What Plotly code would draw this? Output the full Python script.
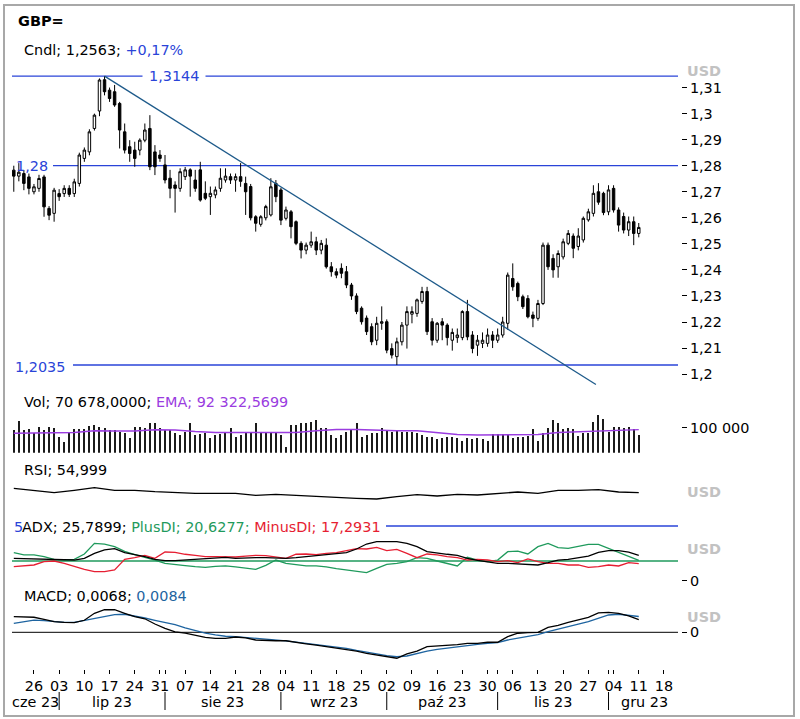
import pandas as pd
import plotly.graph_objects as go

# ---------------- data ----------------
dates = pd.bdate_range("2023-06-20", "2023-12-11")  # 125 sessions

opens = [
    1.2783, 1.2760, 1.2770, 1.2757,
    1.2700, 1.2713, 1.2757, 1.2636, 1.2617,
    1.2693, 1.2693, 1.2713, 1.2693, 1.2732,
    1.2828, 1.2853, 1.2943, 1.3010, 1.3130,
    1.3090, 1.3084, 1.3039, 1.2930, 1.2873,
    1.2860, 1.2860, 1.2898, 1.2943, 1.2853,
    1.2841, 1.2803, 1.2752, 1.2726, 1.2713,
    1.2758, 1.2784, 1.2745, 1.2784, 1.2694,
    1.2681, 1.2688, 1.2713, 1.2745, 1.2758,
    1.2745, 1.2758, 1.2732, 1.2720, 1.2604,
    1.2575, 1.2600, 1.2611, 1.2732, 1.2707,
    1.2598, 1.2623, 1.2585, 1.2502, 1.2476,
    1.2495, 1.2508, 1.2476, 1.2495, 1.2412,
    1.2393, 1.2406, 1.2393, 1.2342, 1.2300,
    1.2253, 1.2215, 1.2182, 1.2130, 1.2195,
    1.2201, 1.2098, 1.2067, 1.2124, 1.2188,
    1.2230, 1.2233, 1.2279, 1.2317, 1.2201,
    1.2130, 1.2201, 1.2188, 1.2130, 1.2140,
    1.2140, 1.2240, 1.2150, 1.2111, 1.2118,
    1.2118, 1.2150, 1.2130, 1.2150, 1.2195,
    1.2367, 1.2348, 1.2297, 1.2290, 1.2227,
    1.2214, 1.2271, 1.2495, 1.2444, 1.2412,
    1.2450, 1.2502, 1.2530, 1.2490, 1.2515,
    1.2592, 1.2617, 1.2700, 1.2694, 1.2623,
    1.2713, 1.2630, 1.2605, 1.2553, 1.2585,
    1.2540,
]
highs = [
    1.2800, 1.2810, 1.2783, 1.2770,
    1.2730, 1.2765, 1.2765, 1.2645, 1.2715,
    1.2710, 1.2725, 1.2725, 1.2750, 1.2850,
    1.2870, 1.2940, 1.3000, 1.3135, 1.3144,
    1.3100, 1.3110, 1.3045, 1.2962, 1.2898,
    1.2892, 1.2905, 1.2962, 1.2994, 1.2879,
    1.2860, 1.2841, 1.2784, 1.2740, 1.2790,
    1.2795, 1.2790, 1.2784, 1.2815, 1.2740,
    1.2720, 1.2720, 1.2790, 1.2790, 1.2770,
    1.2770, 1.2810, 1.2758, 1.2730, 1.2610,
    1.2610, 1.2650, 1.2752, 1.2745, 1.2715,
    1.2643, 1.2630, 1.2590, 1.2510, 1.2505,
    1.2547, 1.2527, 1.2515, 1.2521, 1.2430,
    1.2406, 1.2425, 1.2415, 1.2350, 1.2310,
    1.2260, 1.2225, 1.2195, 1.2220, 1.2260,
    1.2210, 1.2118, 1.2140, 1.2200, 1.2260,
    1.2260, 1.2290, 1.2335, 1.2335, 1.2215,
    1.2200, 1.2215, 1.2195, 1.2175, 1.2175,
    1.2245, 1.2285, 1.2165, 1.2150, 1.2160,
    1.2175, 1.2165, 1.2175, 1.2220, 1.2390,
    1.2425, 1.2355, 1.2305, 1.2303, 1.2240,
    1.2285, 1.2505, 1.2505, 1.2460, 1.2475,
    1.2520, 1.2553, 1.2540, 1.2560, 1.2605,
    1.2635, 1.2725, 1.2733, 1.2700, 1.2725,
    1.2725, 1.2640, 1.2620, 1.2605, 1.2605,
    1.2580,
]
lows = [
    1.2700, 1.2740, 1.2706, 1.2690,
    1.2690, 1.2700, 1.2604, 1.2591, 1.2585,
    1.2665, 1.2680, 1.2680, 1.2680, 1.2720,
    1.2815, 1.2840, 1.2935, 1.2990, 1.3070,
    1.3045, 1.3026, 1.2866, 1.2847, 1.2815,
    1.2796, 1.2840, 1.2890, 1.2783, 1.2764,
    1.2815, 1.2732, 1.2675, 1.2620, 1.2700,
    1.2745, 1.2681, 1.2700, 1.2662, 1.2668,
    1.2611, 1.2675, 1.2700, 1.2735, 1.2730,
    1.2700, 1.2719, 1.2611, 1.2590, 1.2547,
    1.2566, 1.2590, 1.2605, 1.2660, 1.2572,
    1.2590, 1.2521, 1.2495, 1.2444, 1.2460,
    1.2485, 1.2457, 1.2460, 1.2405, 1.2374,
    1.2368, 1.2368, 1.2330, 1.2285, 1.2230,
    1.2190, 1.2150, 1.2111, 1.2111, 1.2170,
    1.2080, 1.2060, 1.2035, 1.2110, 1.2098,
    1.2195, 1.2220, 1.2270, 1.2150, 1.2110,
    1.2120, 1.2130, 1.2110, 1.2090, 1.2120,
    1.2130, 1.2130, 1.2080, 1.2070, 1.2100,
    1.2105, 1.2100, 1.2120, 1.2140, 1.2170,
    1.2320, 1.2280, 1.2250, 1.2214, 1.2180,
    1.2205, 1.2265, 1.2400, 1.2370, 1.2370,
    1.2440, 1.2495, 1.2445, 1.2475, 1.2505,
    1.2585, 1.2605, 1.2650, 1.2610, 1.2610,
    1.2620, 1.2547, 1.2540, 1.2530, 1.2495,
    1.2525,
]
closes = [
    1.2760, 1.2775, 1.2732, 1.2713,
    1.2719, 1.2751, 1.2642, 1.2610, 1.2706,
    1.2681, 1.2713, 1.2690, 1.2738, 1.2841,
    1.2860, 1.2930, 1.2994, 1.3129, 1.3084,
    1.3058, 1.3033, 1.2937, 1.2860, 1.2847,
    1.2828, 1.2898, 1.2937, 1.2796, 1.2796,
    1.2828, 1.2745, 1.2713, 1.2713, 1.2777,
    1.2784, 1.2760, 1.2713, 1.2668, 1.2675,
    1.2694, 1.2707, 1.2752, 1.2760, 1.2745,
    1.2758, 1.2740, 1.2700, 1.2600, 1.2579,
    1.2604, 1.2643, 1.2719, 1.2681, 1.2591,
    1.2630, 1.2566, 1.2502, 1.2476, 1.2495,
    1.2508, 1.2476, 1.2502, 1.2412, 1.2393,
    1.2380, 1.2387, 1.2342, 1.2300, 1.2240,
    1.2201, 1.2163, 1.2124, 1.2195, 1.2201,
    1.2092, 1.2073, 1.2124, 1.2188, 1.2240,
    1.2240, 1.2285, 1.2317, 1.2163, 1.2130,
    1.2195, 1.2188, 1.2140, 1.2160, 1.2150,
    1.2240, 1.2143, 1.2098, 1.2130, 1.2130,
    1.2150, 1.2130, 1.2150, 1.2200, 1.2380,
    1.2335, 1.2297, 1.2259, 1.2220, 1.2214,
    1.2271, 1.2495, 1.2412, 1.2400, 1.2463,
    1.2508, 1.2540, 1.2483, 1.2530, 1.2598,
    1.2623, 1.2694, 1.2660, 1.2620, 1.2707,
    1.2630, 1.2572, 1.2553, 1.2585, 1.2540,
    1.2563,
]
volume = [
    90800, 128100, 90800, 93500,
    77500, 104100, 90800, 101500, 97500,
    64100, 44100, 77500, 93500, 93500,
    93500, 108100, 110800, 104100, 97500,
    90800, 90800, 84100, 77500, 57500,
    104100, 104100, 97500, 120100, 120100,
    97500, 90800, 90800, 77500, 70800,
    84100, 117500, 70800, 74800, 77500,
    57500, 70800, 74800, 80100, 97500,
    61500, 70800, 77500, 77500, 117500,
    77500, 84100, 84100, 77500, 70800,
    24100, 110800, 110800, 117500, 117500,
    124100, 130800, 97500, 97500, 70800,
    57500, 70800, 84100, 90800, 120100,
    64100, 70800, 77500, 77500, 97500,
    90800, 84100, 90800, 84100, 84100,
    84100, 77500, 70800, 61500, 64100,
    53500, 57500, 61500, 61500, 57500,
    48100, 57500, 53500, 57500, 53500,
    48100, 74800, 74800, 74800, 74800,
    57500, 61500, 64100, 66800, 93500,
    46800, 80100, 97500, 130800, 120100,
    93500, 97500, 93500, 66800, 77500,
    77500, 124100, 150800, 133500, 84100,
    104100, 101500, 97500, 104100, 93500,
    70678,
]
# indicators read every 4th session
vol_ema = [77500, 77500, 80000, 81000, 88000, 87000, 87000, 92000, 91000, 85000,
           81000, 81000, 81000, 81000, 81000, 88000, 93000, 93000, 89000, 88000,
           88000, 80000, 73000, 71000, 71000, 71000, 73000, 81000, 84000, 87000,
           91000, 92322.57]
rsi = [70.2, 63.1, 54.8, 63.1, 72.6, 63.1, 63.1, 58.3, 54.8, 52.4,
       52.4, 52.4, 45.2, 48.8, 45.2, 42.9, 38.1, 34.5, 32.1, 40.5,
       47.6, 42.9, 48.8, 46.4, 51.2, 57.1, 52.4, 63.1, 63.1, 65.5,
       57.1, 55.0]
# indicators read every 2nd session
adx = [22.7, 22.4, 22.1, 22.1, 21.7, 21.0, 21.0, 22.7, 27.9, 31.3, 32.6, 28.5, 26.5,
       24.4, 21.7, 20.3, 20.3, 21.0, 21.4, 22.1, 22.7, 23.8, 22.7, 23.4, 23.4, 23.4,
       22.7, 22.7, 23.4, 24.4, 25.1, 25.8, 26.9, 28.5, 32.3, 37.4, 39.8, 39.8, 39.8,
       38.1, 34.7, 29.6, 27.9, 26.9, 25.8, 22.7, 20.7, 18.9, 17.6, 17.6, 16.9, 15.9,
       15.9, 18.3, 21.0, 21.7, 23.4, 25.1, 28.9, 30.6, 30.6, 29.2, 25.79]
plus_di = [28.5, 26.2, 26.2, 24.4, 21.7, 21.0, 21.7, 27.2, 38.1, 37.4, 34.7, 29.9, 26.5,
           24.1, 21.0, 17.6, 16.2, 15.2, 14.2, 13.5, 14.5, 14.9, 13.9, 12.5, 11.5, 15.6,
           21.0, 17.6, 15.9, 14.9, 14.9, 13.9, 12.1, 10.8, 9.4, 8.1, 12.5, 16.6, 17.6,
           19.3, 23.4, 22.7, 20.0, 17.6, 14.9, 23.8, 21.0, 19.3, 21.0, 29.6, 30.2, 27.2,
           34.7, 38.1, 33.7, 33.0, 34.7, 37.1, 37.1, 33.0, 29.6, 25.1, 20.63]
minus_di = [14.2, 14.9, 15.9, 19.3, 20.0, 17.6, 14.2, 11.5, 9.1, 9.1, 10.8, 21.7, 23.4,
            25.8, 22.7, 29.2, 28.9, 26.9, 25.8, 24.4, 24.4, 24.1, 24.1, 25.1, 25.8, 25.5,
            24.1, 22.7, 26.9, 27.2, 26.5, 27.9, 28.5, 30.6, 32.6, 32.3, 34.0, 30.6, 32.0,
            27.9, 23.4, 27.2, 26.2, 24.4, 23.4, 21.0, 21.7, 21.0, 19.3, 20.3, 18.3, 22.1,
            19.3, 17.6, 17.6, 15.9, 15.9, 13.5, 14.2, 15.9, 14.9, 18.3, 17.29]
macd = [0.0083, 0.0081, 0.0080, 0.0069, 0.0057, 0.0053, 0.0051, 0.0064, 0.0101, 0.0120,
        0.0120, 0.0101, 0.0083, 0.0072, 0.0044, 0.0021, 0.0002, -0.0004, -0.0016, -0.0027,
        -0.0032, -0.0032, -0.0025, -0.0030, -0.0041, -0.0045, -0.0045, -0.0045, -0.0055,
        -0.0061, -0.0068, -0.0076, -0.0084, -0.0091, -0.0100, -0.0112, -0.0121, -0.0130,
        -0.0138, -0.0115, -0.0100, -0.0076, -0.0074, -0.0068, -0.0066, -0.0059, -0.0059,
        -0.0053, -0.0053, -0.0023, -0.0005, -0.0002, 0.0000, 0.0026, 0.0037, 0.0053,
        0.0065, 0.0080, 0.0103, 0.0106, 0.0101, 0.0087, 0.0068]
macd_signal = [0.0048, 0.0057, 0.0065, 0.0062, 0.0057, 0.0053, 0.0053, 0.0064, 0.0072,
               0.0083, 0.0094, 0.0096, 0.0087, 0.0076, 0.0064, 0.0053, 0.0041, 0.0023,
               0.0009, -0.0004, -0.0014, -0.0021, -0.0023, -0.0027, -0.0034, -0.0037,
               -0.0041, -0.0046, -0.0052, -0.0059, -0.0066, -0.0073, -0.0078, -0.0085,
               -0.0096, -0.0107, -0.0115, -0.0124, -0.0130, -0.0126, -0.0112, -0.0100,
               -0.0091, -0.0084, -0.0076, -0.0069, -0.0064, -0.0059, -0.0055, -0.0041,
               -0.0032, -0.0023, -0.0012, 0.0003, 0.0018, 0.0032, 0.0044, 0.0057, 0.0074,
               0.0092, 0.0096, 0.0090, 0.0084]

levels = [1.3144, 1.28, 1.2035]
level_labels = ["1,3144", "1,28", "1,2035"]
trend_x = ["2023-07-14", "2023-11-28 12:00"]
trend_y = [1.3144, 1.1960]
adx_ref_level = 56
adx_threshold = 20

price_ticks = [1.20, 1.21, 1.22, 1.23, 1.24, 1.25, 1.26, 1.27, 1.28, 1.29, 1.30, 1.31]
price_tick_labels = ["1,2", "1,21", "1,22", "1,23", "1,24", "1,25", "1,26", "1,27",
                     "1,28", "1,29", "1,3", "1,31"]
mondays = pd.date_range("2023-06-26", "2023-12-18", freq="W-MON")
month_starts = ["2023-07-03", "2023-08-01", "2023-09-01", "2023-10-02", "2023-11-01", "2023-12-01"]
extra_ticks = ["2023-08-01", "2023-09-01", "2023-11-01", "2023-12-01"]
month_labels = ["cze 23", "lip 23", "sie 23", "wrz 23", "paź 23", "lis 23", "gru 23"]
month_label_x = ["2023-06-26 08:00", "2023-07-17 12:00", "2023-08-16 12:00",
                 "2023-09-15 12:00", "2023-10-17", "2023-11-16", "2023-12-12 02:00"]

# ---------------- layout helpers ----------------
PX_L, PX_R, PX_T, PX_B = 12, 681, 60, 669
def fx(px):
    return (px - PX_L) / (PX_R - PX_L)
def fy(py):
    return (PX_B - py) / (PX_B - PX_T)

FONT = "DejaVu Sans"
FS = 14.4
BLUE = "#2a44d8"
GREEN = "#1f9a5c"
RED = "#e61e32"
SIG = "#1e64a0"
PURPLE = "#9a3ce0"
GRAY = "#c2c2c2"

d4 = dates[::4]
d2 = dates[::2]

fig = go.Figure()
fig.add_trace(go.Candlestick(
    x=dates, open=opens, high=highs, low=lows, close=closes,
    increasing=dict(line=dict(color="black", width=1), fillcolor="white"),
    decreasing=dict(line=dict(color="black", width=1), fillcolor="black"),
    whiskerwidth=0, showlegend=False, hoverinfo="skip", xaxis="x", yaxis="y"))
fig.add_trace(go.Scatter(x=trend_x, y=trend_y, mode="lines",
                         line=dict(color="#1d5a8a", width=1.3), yaxis="y", hoverinfo="skip"))
fig.add_trace(go.Bar(x=dates, y=volume, yaxis="y2", marker=dict(color="#1a1a1a", line=dict(width=0)),
                     width=0.2 * 86400000, hoverinfo="skip"))
fig.add_trace(go.Scatter(x=d4, y=vol_ema, yaxis="y2", mode="lines",
                         line=dict(color=PURPLE, width=1.4), hoverinfo="skip"))
fig.add_trace(go.Scatter(x=d4, y=rsi, yaxis="y3", mode="lines",
                         line=dict(color="black", width=1.3), hoverinfo="skip"))
fig.add_trace(go.Scatter(x=d2, y=plus_di, yaxis="y4", mode="lines",
                         line=dict(color=GREEN, width=1.3), hoverinfo="skip"))
fig.add_trace(go.Scatter(x=d2, y=minus_di, yaxis="y4", mode="lines",
                         line=dict(color=RED, width=1.3), hoverinfo="skip"))
fig.add_trace(go.Scatter(x=d2, y=adx, yaxis="y4", mode="lines",
                         line=dict(color="black", width=1.3), hoverinfo="skip"))
fig.add_trace(go.Scatter(x=d2, y=macd_signal, yaxis="y5", mode="lines",
                         line=dict(color=SIG, width=1.3), hoverinfo="skip"))
fig.add_trace(go.Scatter(x=d2, y=macd, yaxis="y5", mode="lines",
                         line=dict(color="black", width=1.3), hoverinfo="skip"))

shapes = []
starts = [fx(12), fx(53), fx(73)]
for lv, s in zip(levels, starts):
    shapes.append(dict(type="line", xref="paper", yref="y", x0=s, x1=fx(678), y0=lv, y1=lv,
                       line=dict(color=BLUE, width=1.3), layer="below"))
shapes.append(dict(type="line", xref="paper", yref="y4", x0=fx(386), x1=fx(678),
                   y0=adx_ref_level, y1=adx_ref_level, line=dict(color=BLUE, width=1.5)))
shapes.append(dict(type="line", xref="paper", yref="y4", x0=0, x1=fx(678),
                   y0=adx_threshold, y1=adx_threshold, line=dict(color=GREEN, width=1.3), layer="below"))
shapes.append(dict(type="line", xref="paper", yref="y5", x0=0, x1=fx(678),
                   y0=0, y1=0, line=dict(color="black", width=1), layer="below"))
for ms in month_starts:
    shapes.append(dict(type="line", xref="x", yref="paper", x0=ms, x1=ms,
                       y0=fy(692), y1=fy(710), line=dict(color="black", width=1)))
shapes.append(dict(type="rect", xref="paper", yref="paper", x0=fx(4), x1=fx(794),
                   y0=fy(716), y1=fy(5), line=dict(color="#a8a8a8", width=2)))

ann = []
def text(px, py, t, size=FS, color="black", xanchor="left", bold=False, bg=None, pad=1):
    d = dict(xref="paper", yref="paper", x=fx(px), y=fy(py), text=("<b>%s</b>" % t) if bold else t,
             showarrow=False, xanchor=xanchor, yanchor="middle",
             font=dict(family=FONT, size=size, color=color), borderpad=pad)
    if bg:
        d["bgcolor"] = bg
    ann.append(d)

text(16, 21, "GBP=", size=14.5, bold=True)
text(22, 50, "Cndl; 1,2563; <span style='color:%s'>+0,17%%</span>" % BLUE)
text(22, 402, "Vol; 70 678,0000; <span style='color:%s'>EMA; 92 322,5699</span>" % PURPLE)
text(22, 470, "RSI; 54,999")
text(12, 527, "5", color=BLUE)
text(20, 527, "ADX; 25,7899; <span style='color:%s'>PlusDI; 20,6277; </span>"
              "<span style='color:%s'>MinusDI; 17,2931</span>" % (GREEN, RED))
text(22, 596, "MACD; 0,0068; <span style='color:%s'>0,0084</span>" % SIG)
for py in [71, 492, 549, 617]:
    text(685, py, "USD", color=GRAY, bold=True)
text(174, 76, level_labels[0], color=BLUE, xanchor="center", bg="white", pad=6)
text(14, 166, level_labels[1], color=BLUE)
text(13, 367, level_labels[2], color=BLUE)
for mx, ml in zip(month_label_x, month_labels):
    ann.append(dict(xref="x", yref="paper", x=mx, y=fy(702), text=ml, showarrow=False,
                    xanchor="center", yanchor="middle", font=dict(family=FONT, size=FS, color="black")))

tickvals = list(mondays) + [pd.Timestamp(t) for t in extra_ticks]
ticktext = [d.strftime("%d") for d in mondays] + [""] * len(extra_ticks)

yax_common = dict(side="right", anchor="x", showgrid=False, zeroline=False, showline=False,
                  ticks="outside", ticklen=5, tickcolor="black", tickwidth=1,
                  tickfont=dict(family=FONT, size=FS, color="black"), fixedrange=True)

fig.update_layout(
    width=800, height=719, paper_bgcolor="white", plot_bgcolor="white",
    margin=dict(l=PX_L, r=800 - PX_R, t=PX_T, b=719 - PX_B),
    showlegend=False, bargap=0,
    font=dict(family=FONT, size=FS, color="black"),
    xaxis=dict(type="date", range=["2023-06-19 15:26", "2023-12-21 09:07"],
               rangebreaks=[dict(bounds=["sat", "mon"])],
               rangeslider=dict(visible=False), anchor="free", position=0,
               tickvals=tickvals, ticktext=ticktext, ticks="outside", ticklen=4,
               tickcolor="black", showgrid=False, zeroline=False, showline=False,
               tickfont=dict(family=FONT, size=FS, color="black")),
    yaxis=dict(domain=[fy(386), 1], range=[1.19543, 1.32058],
               tickvals=price_ticks, ticktext=price_tick_labels, **yax_common),
    yaxis2=dict(domain=[fy(452.7), fy(410)], range=[0, 170800],
                tickvals=[100000], ticktext=["100 000"], **yax_common),
    yaxis3=dict(domain=[fy(508), fy(480)], range=[0, 100], tickvals=[], **yax_common),
    yaxis4=dict(domain=[fy(585), fy(515)], range=[-4.62, 67.18],
                tickvals=[0], ticktext=["0"], **yax_common),
    yaxis5=dict(domain=[0, fy(600)], range=[-0.01952, 0.01718],
                tickvals=[0], ticktext=["0"], **yax_common),
    shapes=shapes, annotations=ann,
)

fig.write_html("out.html")
